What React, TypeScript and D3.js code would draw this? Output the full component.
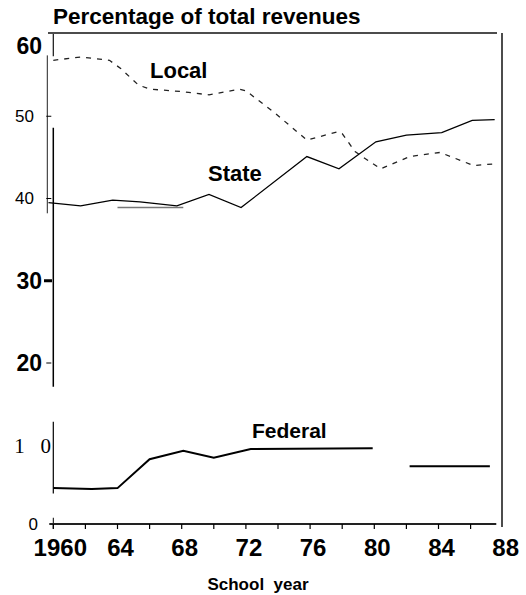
import React from "react";
import * as d3 from "d3";

// values (percent of total revenues)
const localYears = [1960, 1961.7, 1963.5, 1964.2, 1965.3, 1966, 1968, 1969.7, 1971.6, 1972, 1973.8, 1975.8, 1977.7, 1978, 1978.8, 1979.7, 1980.4, 1982.2, 1984.1, 1986.2, 1987.4];
const localValues = [56.8, 57.2, 56.8, 55.8, 53.8, 53.3, 53.0, 52.6, 53.3, 53.1, 50.4, 47.1, 48.1, 47.9, 45.7, 44.5, 43.6, 45.1, 45.6, 44.0, 44.2];

const stateYears = [1959.7, 1961.7, 1963.7, 1965.4, 1967.7, 1969.7, 1971.7, 1975.8, 1977.8, 1980.1, 1982, 1984.2, 1986.1, 1987.5];
const stateValues = [39.5, 39.1, 39.8, 39.6, 39.1, 40.5, 38.9, 45.1, 43.6, 46.9, 47.7, 48.0, 49.5, 49.6];

const federalYears = [1960, 1962.4, 1964, 1966, 1968.1, 1970, 1972.3, 1979.9, 1981, 1982.2, 1987.2];
const federalValues: (number | null)[] = [4.6, 4.5, 4.6, 8.3, 9.4, 8.5, 9.6, 9.7, null, 7.4, 7.4];

// stray rule under the State line in the scan
const ghostYears = [1964, 1968.1];
const ghostValues = [38.9, 38.9];

const upperTicks = [60, 50, 40, 30, 20];
const lowerTicks = [10, 0];
const yearTicks = [1960, 1964, 1968, 1972, 1976, 1980, 1984, 1988];
const yearLabels = ["1960", "64", "68", "72", "76", "80", "84", "88"];

const WIDTH = 526;
const HEIGHT = 595;
const SANS = "'Liberation Sans', Arial, Helvetica, sans-serif";
const SERIF = "'Liberation Serif', 'Times New Roman', serif";

export default function App() {
  const x = d3.scaleLinear().domain([1960, 1988]).range([53.3, 502.7]);
  const yUp = d3.scaleLinear().domain([20, 60]).range([363, 34]);
  const yLow = d3.scaleLinear().domain([0, 10]).range([524, 446]);

  const upperLine = d3
    .line<[number, number]>()
    .x((d) => x(d[0]))
    .y((d) => yUp(d[1]));

  const fedLine = d3
    .line<[number, number | null]>()
    .defined((d) => d[1] !== null)
    .x((d) => x(d[0]))
    .y((d) => yLow(d[1] as number));

  const local = localYears.map((yr, i) => [yr, localValues[i]] as [number, number]);
  const state = stateYears.map((yr, i) => [yr, stateValues[i]] as [number, number]);
  const ghost = ghostYears.map((yr, i) => [yr, ghostValues[i]] as [number, number]);
  const federal = federalYears.map((yr, i) => [yr, federalValues[i]] as [number, number | null]);

  const x0 = x(1960);
  const minorTicks = d3.range(1960, 1987, 2);

  // upper and lower label styles differ in the scan
  const upperLabel = (v: number) => {
    const bold = v === 60 || v === 30 || v === 20;
    return (
      <text
        key={v}
        x={bold ? 42 : 34}
        y={yUp(v) + (v === 60 ? 12 : 0)}
        textAnchor="end"
        dominantBaseline="central"
        fontFamily={SANS}
        fontWeight={bold ? "bold" : "normal"}
        fontSize={bold ? 23 : 17}
        fill="#000"
      >
        {v}
      </text>
    );
  };

  return (
    <svg
      width={WIDTH}
      height={HEIGHT}
      style={{ position: "absolute", left: 0, top: 0, background: "#fff" }}
    >
      <rect width={WIDTH} height={HEIGHT} fill="#fff" />

      <text x={53} y={24} fontFamily={SANS} fontWeight="bold" fontSize={22.5} fill="#000">
        Percentage of total revenues
      </text>

      {/* frame */}
      <line x1={48} x2={497} y1={33} y2={33} stroke="#111" strokeWidth={1.3} />
      <line x1={502} x2={502} y1={33} y2={527} stroke="#111" strokeWidth={1.5} />

      {/* broken left axis, upper panel */}
      <line x1={x0} x2={x0} y1={yUp(60)} y2={yUp(57.3)} stroke="#111" strokeWidth={1.2} />
      <line x1={x0 - 6} x2={x0 - 6} y1={yUp(57.4)} y2={yUp(38.2)} stroke="#222" strokeWidth={1} />
      <line x1={x0} x2={x0} y1={yUp(48.6)} y2={yUp(17.1)} stroke="#000" strokeWidth={1.5} />
      {upperTicks.filter((v) => v < 60).map((v) => (
        <line
          key={v}
          x1={v === 30 ? 44 : x0 - 7}
          x2={v === 30 ? 52 : x0 - 2}
          y1={yUp(v)}
          y2={yUp(v)}
          stroke="#000"
          strokeWidth={v === 30 ? 3 : 1}
        />
      ))}
      {upperTicks.map(upperLabel)}

      {/* lower panel axis */}
      <line x1={x0} x2={x0} y1={yLow(13.1)} y2={yLow(3.9)} stroke="#000" strokeWidth={1.2} />
      <line x1={x0} x2={x0} y1={yLow(0.8)} y2={yLow(-0.6)} stroke="#000" strokeWidth={1} />
      {lowerTicks.map((v) =>
        v === 10 ? (
          <text key={v} x={51} y={yLow(v)} textAnchor="end" dominantBaseline="central" fontFamily={SERIF} fontSize={21} fill="#000" xmlSpace="preserve">
            {"1   0"}
          </text>
        ) : (
          <text key={v} x={38} y={yLow(v)} textAnchor="end" dominantBaseline="central" fontFamily={SANS} fontSize={17} fill="#000">
            {v}
          </text>
        )
      )}

      {/* x axis */}
      <line x1={x0 - 4} x2={x(1987.6)} y1={yLow(0)} y2={yLow(0)} stroke="#222" strokeWidth={1.8} />
      {minorTicks.map((yr) => (
        <line key={yr} x1={x(yr)} x2={x(yr)} y1={yLow(0)} y2={yLow(0) + 5} stroke="#000" strokeWidth={1.2} />
      ))}
      {yearTicks.map((yr, i) => (
        <text
          key={yr}
          x={x(yr) + (i === 0 ? 7 : 3)}
          y={556}
          textAnchor="middle"
          fontFamily={SANS}
          fontWeight="bold"
          fontSize={24}
          fill="#000"
        >
          {yearLabels[i]}
        </text>
      ))}
      <text x={258} y={590} textAnchor="middle" fontFamily={SANS} fontWeight="bold" fontSize={17} fill="#000" xmlSpace="preserve">
        School  year
      </text>

      {/* series */}
      <path d={upperLine(ghost) ?? ""} fill="none" stroke="#777" strokeWidth={1.5} />
      <path d={upperLine(local) ?? ""} fill="none" stroke="#222" strokeWidth={1.3} strokeDasharray="5 6" />
      <path d={upperLine(state) ?? ""} fill="none" stroke="#000" strokeWidth={1.3} />
      <path d={fedLine(federal) ?? ""} fill="none" stroke="#000" strokeWidth={2} />

      <text x={150} y={78} fontFamily={SANS} fontWeight="bold" fontSize={22} fill="#000">Local</text>
      <text x={208} y={181} fontFamily={SANS} fontWeight="bold" fontSize={22} fill="#000">State</text>
      <text x={252} y={438} fontFamily={SANS} fontWeight="bold" fontSize={21} fill="#000">Federal</text>
    </svg>
  );
}
